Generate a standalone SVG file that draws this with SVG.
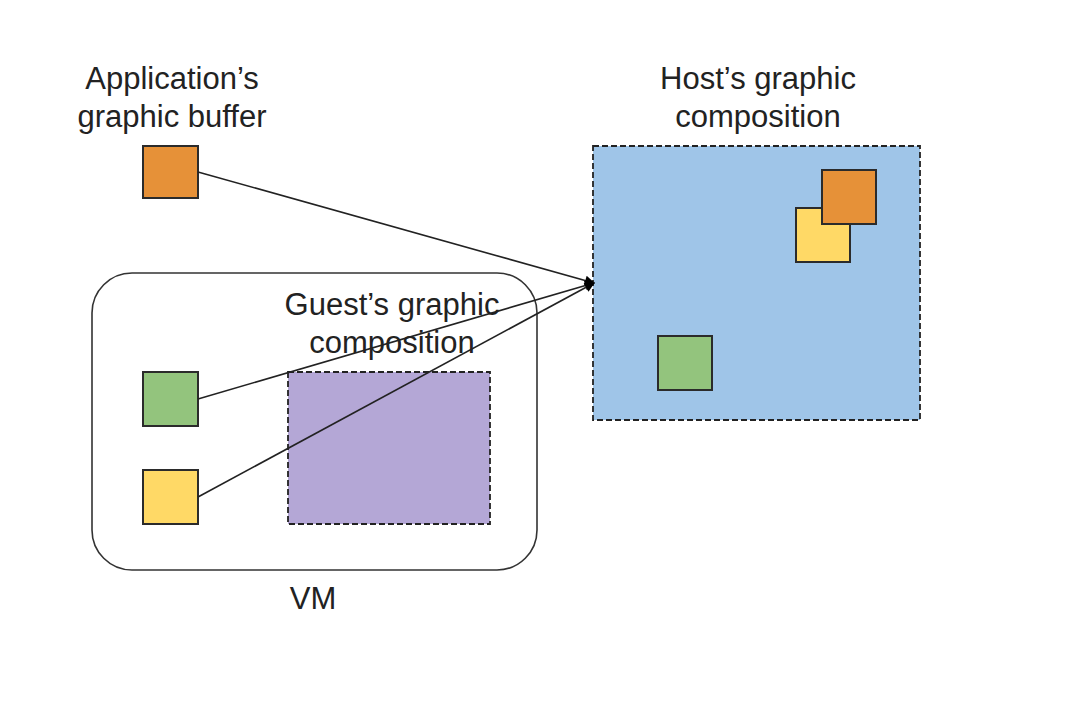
<svg xmlns="http://www.w3.org/2000/svg" width="1078" height="716" viewBox="0 0 1078 716">
  <style>
    .lbl { font-family: "Liberation Sans", Arial, sans-serif; font-size: 31px; fill: #222; text-anchor: middle; }
    .sq { stroke: #2b2b2b; stroke-width: 2; }
    .dash { stroke: #222; stroke-width: 1.8; stroke-dasharray: 6 3; }
    .conn { stroke: #222; stroke-width: 1.6; fill: none; }
    .orange { fill: #e69138; }
    .yellow { fill: #ffd966; }
    .green { fill: #93c47d; }
  </style>
  <defs>
    <marker id="arr" viewBox="0 0 10 10" refX="9" refY="5" markerWidth="11" markerHeight="10" markerUnits="userSpaceOnUse" orient="auto">
      <path d="M0,0 L10,5 L0,10 z" fill="#000"/>
    </marker>
  </defs>
  <rect width="1078" height="716" fill="#fff"/>

  <g id="vm">
    <rect x="92" y="273" width="445" height="297" rx="40" ry="40" fill="#fff" stroke="#333" stroke-width="1.6"/>
    <text class="lbl" x="313" y="609">VM</text>
  </g>

  <g id="guest-composition">
    <rect class="dash" x="288" y="372" width="202" height="152" fill="#b4a7d6"/>
    <text class="lbl" x="392" y="315">Guest’s graphic</text>
    <text class="lbl" x="392" y="353">composition</text>
  </g>

  <g id="app-buffer">
    <rect class="sq orange" x="143" y="146" width="55" height="52"/>
    <text class="lbl" x="172" y="89">Application’s</text>
    <text class="lbl" x="172" y="127">graphic buffer</text>
  </g>

  <g id="guest-green">
    <rect class="sq green" x="143" y="372" width="55" height="54"/>
  </g>
  <g id="guest-yellow">
    <rect class="sq yellow" x="143" y="470" width="55" height="54"/>
  </g>

  <g id="host-composition">
    <rect class="dash" x="593" y="146" width="327" height="274" fill="#9fc5e8"/>
    <text class="lbl" x="758" y="89">Host’s graphic</text>
    <text class="lbl" x="758" y="127">composition</text>
    <rect class="sq yellow" x="796" y="208" width="54" height="54"/>
    <rect class="sq orange" x="822" y="170" width="54" height="54"/>
    <rect class="sq green" x="658" y="336" width="54" height="54"/>
  </g>

  <g id="connectors">
    <line class="conn" x1="198" y1="172" x2="594" y2="283" marker-end="url(#arr)"/>
    <line class="conn" x1="198" y1="399" x2="594" y2="283" marker-end="url(#arr)"/>
    <line class="conn" x1="198" y1="497" x2="594" y2="283" marker-end="url(#arr)"/>
  </g>
</svg>
